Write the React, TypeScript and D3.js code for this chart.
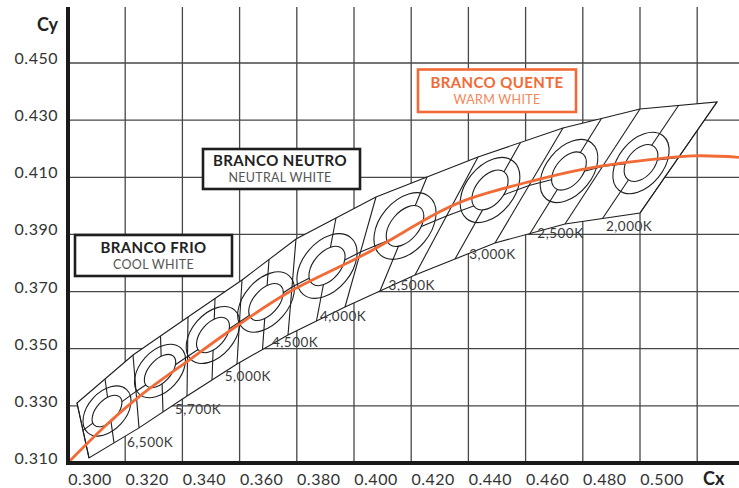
import React from 'react';
import * as d3 from 'd3';

// ---- data (chromaticity coordinates) ----
const xTicks = [0.3, 0.32, 0.34, 0.36, 0.38, 0.4, 0.42, 0.44, 0.46, 0.48, 0.5];
const yTicks = [0.31, 0.33, 0.35, 0.37, 0.39, 0.41, 0.43, 0.45];
const xGrid = [0.32, 0.34, 0.36, 0.38, 0.4, 0.42, 0.44, 0.46, 0.48, 0.5, 0.52];

// separators between quadrangles: top and bottom points
const sepTopX = [0.30315, 0.32273, 0.34196, 0.36084, 0.37972, 0.40769, 0.44336, 0.47308, 0.50000, 0.52692];
const sepTopY = [0.3310, 0.3478, 0.3611, 0.37405, 0.38840, 0.40310, 0.41710, 0.42725, 0.43390, 0.43635];
const sepBotX = [0.30734, 0.32483, 0.34161, 0.35909, 0.37692, 0.39685, 0.42133, 0.44930, 0.47378, 0.50000];
const sepBotY = [0.3118, 0.3223, 0.33345, 0.34465, 0.35480, 0.36460, 0.37580, 0.38700, 0.39365, 0.39750];

const cctLabels = ['6,500K', '5,700K', '5,000K', '4,500K', '4,000K', '3,500K', '3,000K', '2,500K', '2,000K'];
const labelX = [0.3287, 0.3455, 0.3629, 0.3794, 0.3962, 0.4202, 0.4484, 0.4722, 0.4962];
const labelY = [0.3155, 0.3272, 0.3388, 0.3505, 0.3597, 0.3706, 0.3815, 0.3887, 0.3912];

// ellipse centres and semi-axes (in chromaticity units), tilt in degrees
const ellX = [0.31364, 0.33217, 0.35070, 0.36923, 0.39056, 0.41783, 0.44755, 0.47517, 0.50035];
const ellY = [0.32820, 0.34220, 0.35480, 0.36635, 0.37895, 0.39295, 0.40555, 0.41220, 0.41500];
const ellInA = [0.00664, 0.00699, 0.00734, 0.00769, 0.00804, 0.00839, 0.00804, 0.00769, 0.00734];
const ellInB = [0.00367, 0.00385, 0.00420, 0.00437, 0.00472, 0.00490, 0.00490, 0.00472, 0.00472];
const ellOutA = [0.01014, 0.01084, 0.01154, 0.01224, 0.01294, 0.01329, 0.01294, 0.01259, 0.01224];
const ellOutB = [0.00664, 0.00699, 0.00734, 0.00769, 0.00839, 0.00874, 0.00839, 0.00804, 0.00787];
const ellTilt = [48, 48, 49, 49, 50, 50, 51, 51, 51];

// Planckian locus (orange)
const locusX = [0.3007, 0.3147, 0.3252, 0.3427, 0.3595, 0.3776, 0.4044, 0.4301, 0.4406, 0.4615, 0.4790, 0.4953, 0.5186, 0.5346];
const locusY = [0.3108, 0.3245, 0.3335, 0.3463, 0.3583, 0.3700, 0.3834, 0.3980, 0.4026, 0.4085, 0.4126, 0.4152, 0.4175, 0.4170];

const ORANGE = '#f26a36';
const INK = '#1e1e1e';
const GRID = '#474747';

export default function App() {
  const W = 739, H = 488;
  const x = d3.scaleLinear().domain([0.3, 0.52]).range([68, 697.2]);
  const y = d3.scaleLinear().domain([0.31, 0.45]).range([463, 63]);

  const n = sepTopX.length;
  const T = sepTopX.map((v, i) => [x(v), y(sepTopY[i])]);
  const B = sepBotX.map((v, i) => [x(v), y(sepBotY[i])]);
  const mid = (a: number[], b: number[]) => [(a[0] + b[0]) / 2, (a[1] + b[1]) / 2];

  const outline = 'M' + T.map(p => p.join(',')).join('L') + 'L' + B.slice().reverse().map(p => p.join(',')).join('L') + 'Z';

  const inner: string[] = [];
  for (let i = 0; i < n - 1; i++) {
    const tm = mid(T[i], T[i + 1]);
    const bm = mid(B[i], B[i + 1]);
    const lm = mid(T[i], B[i]);
    const rm = mid(T[i + 1], B[i + 1]);
    inner.push(`M${tm[0]},${tm[1]}L${bm[0]},${bm[1]}`);
    inner.push(`M${lm[0]},${lm[1]}L${rm[0]},${rm[1]}`);
  }
  const seps = T.map((t, i) => `M${t[0]},${t[1]}L${B[i][0]},${B[i][1]}`);

  const kx = x(0.31) - x(0.3);
  const locus = d3.line<number>().x((_, i) => x(locusX[i])).y((_, i) => y(locusY[i])).curve(d3.curveCatmullRom.alpha(0.5))(locusX as any) as string;

  const tickFont = 'Lato, "Open Sans", sans-serif';
  const boxFont = 'Lato, "Open Sans", sans-serif';

  return (
    <svg width={W} height={H} style={{ display: 'block', position: 'absolute', left: 0, top: 0 }}>
      <rect width={W} height={H} fill="#fff" />
      {/* grid */}
      {xGrid.map(v => (
        <line key={'gx' + v} x1={x(v)} x2={x(v)} y1={7} y2={463} stroke={GRID} strokeWidth={1.3} />
      ))}
      {yTicks.slice(1).map(v => (
        <line key={'gy' + v} x1={68} x2={739} y1={y(v)} y2={y(v)} stroke={GRID} strokeWidth={1.3} />
      ))}
      {/* quadrangles */}
      <path d={outline} fill="#fff" stroke={INK} strokeWidth={1.1} />
      {inner.map((d, i) => <path key={'in' + i} d={d} stroke={INK} strokeWidth={1.1} fill="none" />)}
      {seps.map((d, i) => <path key={'sp' + i} d={d} stroke={INK} strokeWidth={1.1} fill="none" />)}
      {ellX.map((v, i) => {
        const cx = x(v), cy = y(ellY[i]);
        return (
          <g key={'e' + i} transform={`translate(${cx},${cy}) rotate(${-ellTilt[i]})`}>
            <ellipse rx={ellOutA[i] * kx / 0.01} ry={ellOutB[i] * kx / 0.01} fill="none" stroke={INK} strokeWidth={1.1} />
            <ellipse rx={ellInA[i] * kx / 0.01} ry={ellInB[i] * kx / 0.01} fill="#fff" stroke={INK} strokeWidth={1.1} />
          </g>
        );
      })}
      {/* locus */}
      <path d={locus} fill="none" stroke={ORANGE} strokeWidth={2.8} />
      {/* CCT labels */}
      {cctLabels.map((t, i) => (
        <text key={t} x={x(labelX[i])} y={y(labelY[i])} textAnchor="middle" fontFamily={tickFont} fontSize={13.5} letterSpacing={0.5} fill="#3a3a3a">{t}</text>
      ))}
      {/* boxes */}
      <g>
        <rect x={75} y={235} width={157} height={41} fill="#fff" stroke={INK} strokeWidth={2.6} />
        <text x={153.5} y={253.2} textAnchor="middle" fontFamily={boxFont} fontWeight={700} fontSize={15} letterSpacing={0.4} fill="#222">BRANCO FRIO</text>
        <text x={153.5} y={268.9} textAnchor="middle" fontFamily={boxFont} fontSize={12.5} letterSpacing={0.3} fill="#555">COOL WHITE</text>

        <rect x={203} y={149} width={157} height={40} fill="#fff" stroke={INK} strokeWidth={2.6} />
        <text x={280} y={166} textAnchor="middle" fontFamily={boxFont} fontWeight={700} fontSize={15} letterSpacing={0.4} fill="#222">BRANCO NEUTRO</text>
        <text x={280} y={181.7} textAnchor="middle" fontFamily={boxFont} fontSize={12.5} letterSpacing={0.3} fill="#555">NEUTRAL WHITE</text>

        <rect x={418} y={69.5} width={158} height={42.5} fill="#fff" stroke={ORANGE} strokeWidth={2.6} />
        <text x={497} y={88} textAnchor="middle" fontFamily={boxFont} fontWeight={700} fontSize={15} letterSpacing={0.4} fill={ORANGE}>BRANCO QUENTE</text>
        <text x={497} y={103.7} textAnchor="middle" fontFamily={boxFont} fontSize={12.5} letterSpacing={0.3} fill="#f5875a">WARM WHITE</text>
      </g>
      {/* axes */}
      <line x1={68} x2={68} y1={7} y2={465} stroke="#1a1a1a" strokeWidth={4} />
      <line x1={66} x2={739} y1={463} y2={463} stroke="#1a1a1a" strokeWidth={4} />
      {yTicks.map(v => (
        <text key={'yl' + v} x={58} y={y(v) + 1} textAnchor="end" fontFamily={tickFont} fontSize={16} letterSpacing={0.5} fill="#333">{v.toFixed(3)}</text>
      ))}
      {xTicks.map(v => (
        <text key={'xl' + v} x={x(v) + 22} y={485} textAnchor="middle" fontFamily={tickFont} fontSize={16} letterSpacing={0.5} fill="#333">{v.toFixed(3)}</text>
      ))}
      <text x={58} y={31} textAnchor="end" fontFamily={tickFont} fontWeight={700} fontSize={18} fill="#222">Cy</text>
      <text x={703} y={485} fontFamily={tickFont} fontWeight={700} fontSize={18} fill="#222">Cx</text>
    </svg>
  );
}
